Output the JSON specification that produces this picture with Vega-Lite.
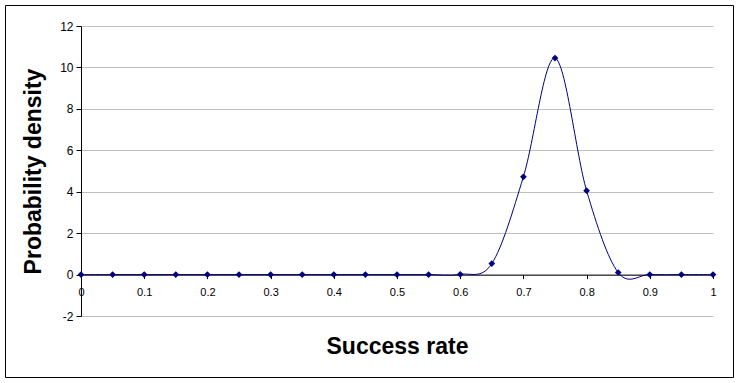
{
  "$schema": "https://vega.github.io/schema/vega-lite/v6.json",
  "width": 728,
  "height": 372,
  "autosize": {"type": "none"},
  "padding": {"left": 5, "top": 5, "right": 6, "bottom": 6},
  "background": "white",
  "config": {
    "view": {"stroke": "black", "strokeWidth": 1},
    "font": "Liberation Sans"
  },
  "data": {
    "values": [
      {"rate": 0, "density": 0},
      {"rate": 0.05, "density": 0},
      {"rate": 0.1, "density": 0},
      {"rate": 0.15, "density": 0},
      {"rate": 0.2, "density": 0},
      {"rate": 0.25, "density": 0},
      {"rate": 0.3, "density": 0},
      {"rate": 0.35, "density": 0},
      {"rate": 0.4, "density": 0},
      {"rate": 0.45, "density": 0},
      {"rate": 0.5, "density": 0},
      {"rate": 0.55, "density": 0},
      {"rate": 0.6, "density": 0.01},
      {"rate": 0.65, "density": 0.53},
      {"rate": 0.7, "density": 4.72},
      {"rate": 0.75, "density": 10.45},
      {"rate": 0.8, "density": 4.05},
      {"rate": 0.85, "density": 0.1},
      {"rate": 0.9, "density": 0},
      {"rate": 0.95, "density": 0},
      {"rate": 1, "density": 0}
    ]
  },
  "layer": [
    {
      "mark": {"type": "line", "interpolate": "cardinal", "tension": 0, "color": "#000080", "strokeWidth": 1},
      "encoding": {
        "x": {
          "field": "rate",
          "type": "quantitative",
          "scale": {"domain": [0, 1], "range": [76, 708], "nice": false, "zero": false},
          "axis": {
            "title": "Success rate",
            "values": [0, 0.1, 0.2, 0.3, 0.4, 0.5, 0.6, 0.7, 0.8, 0.9, 1],
            "format": "~g",
            "grid": false,
            "offset": -102.4,
            "domainColor": "black",
            "tickColor": "black",
            "tickSize": 4,
            "labelFont": "Liberation Sans",
            "labelFontSize": 11,
            "labelColor": "black",
            "labelPadding": 8,
            "labelFlush": false,
            "labelOverlap": false,
            "titleFont": "Liberation Sans",
            "titleFontSize": 23,
            "titleFontWeight": "bold",
            "titleColor": "black",
            "titlePadding": 38
          }
        },
        "y": {
          "field": "density",
          "type": "quantitative",
          "scale": {"domain": [-2, 12], "range": [311, 21], "nice": false, "zero": false},
          "axis": {
            "title": "Probability density",
            "values": [-2, 0, 2, 4, 6, 8, 10, 12],
            "labelExpr": "toString(datum.value)",
            "grid": true,
            "gridColor": "#c0c0c0",
            "gridWidth": 1,
            "offset": -76,
            "domainColor": "black",
            "tickColor": "black",
            "tickSize": 5,
            "labelFont": "Liberation Sans",
            "labelFontSize": 12,
            "labelColor": "black",
            "labelPadding": 3,
            "labelOverlap": false,
            "titleFont": "Liberation Sans",
            "titleFontSize": 23,
            "titleFontWeight": "bold",
            "titleColor": "black",
            "titlePadding": 14
          }
        }
      }
    },
    {
      "mark": {"type": "point", "shape": "diamond", "filled": true, "color": "#000080", "size": 45, "opacity": 1},
      "encoding": {
        "x": {"field": "rate", "type": "quantitative"},
        "y": {"field": "density", "type": "quantitative"}
      }
    }
  ]
}
